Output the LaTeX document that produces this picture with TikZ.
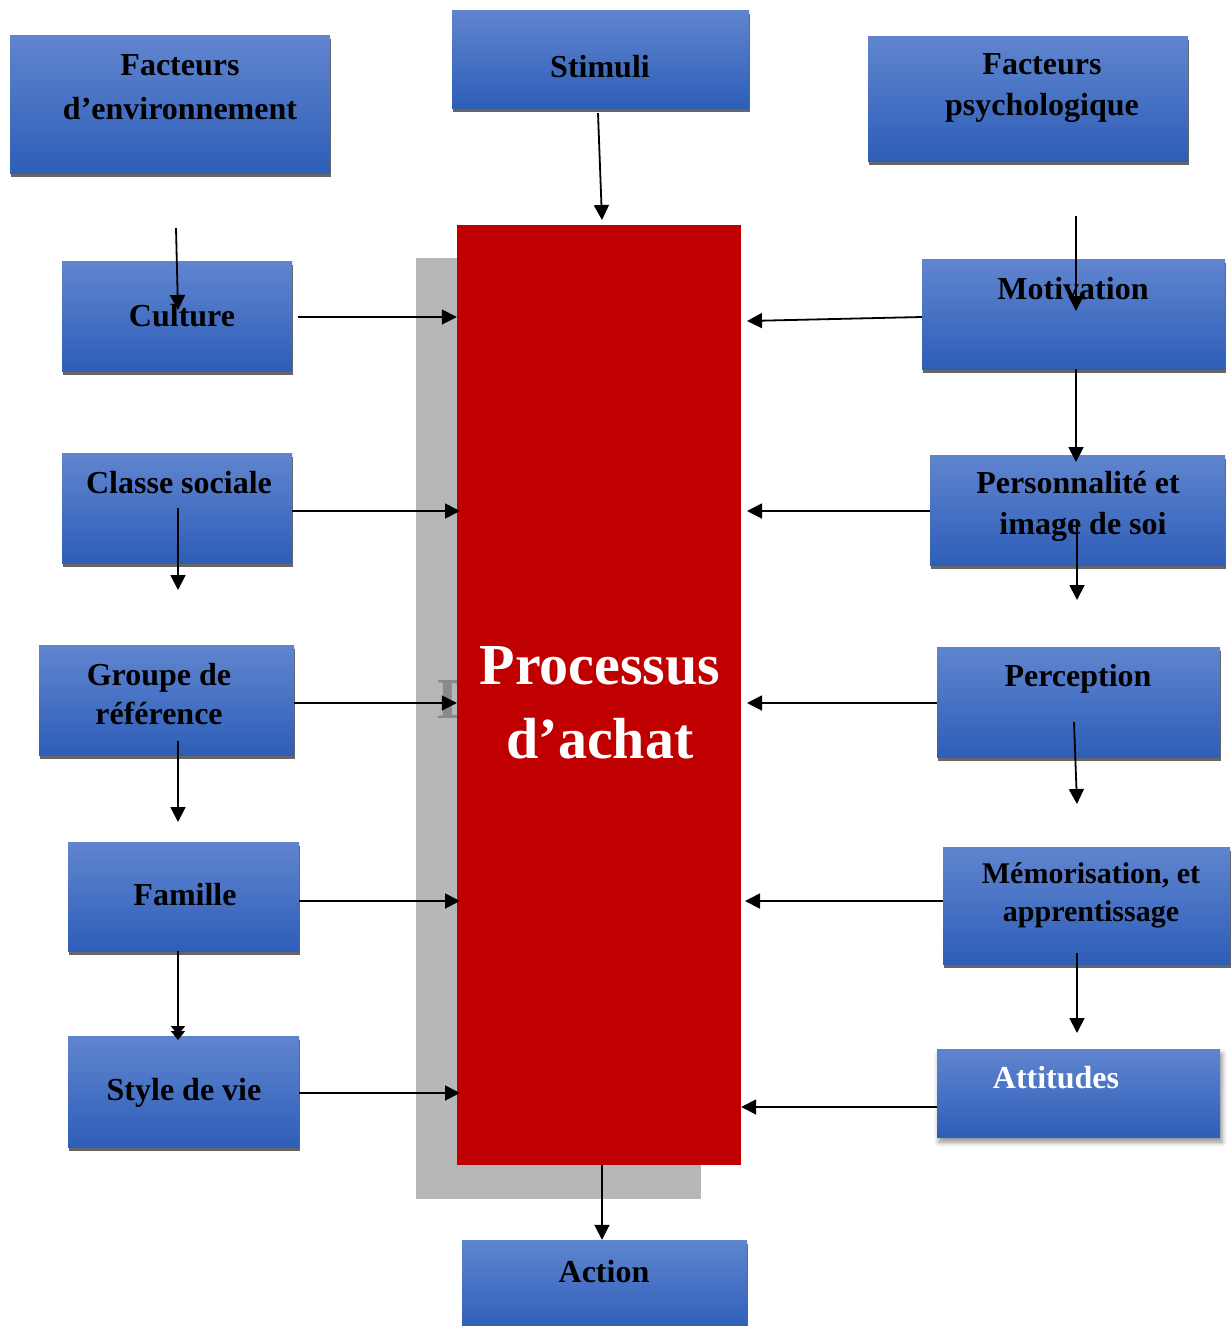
\documentclass[tikz,border=0pt]{standalone}
\usepackage{fontspec}
\setmainfont{Liberation Serif}
\usetikzlibrary{arrows.meta,shadows,shadows.blur,fit}

\definecolor{boxtop}{HTML}{6085CF}
\definecolor{boxbot}{HTML}{2E5EB8}
\definecolor{procred}{HTML}{C00000}
\definecolor{backgray}{HTML}{B7B7B7}
\definecolor{edgegray}{HTML}{666666}
\definecolor{lettergray}{HTML}{8A8A8A}

\begin{document}
\begin{tikzpicture}[x=1pt,y=-1pt,
  box/.style={inner sep=0pt, top color=boxtop, bottom color=boxbot,
    drop shadow={shadow xshift=1pt, shadow yshift=-4pt, fill=edgegray, opacity=1}},
  softbox/.style={inner sep=0pt, top color=boxtop, bottom color=boxbot,
    blur shadow={shadow xshift=2pt, shadow yshift=-5pt, shadow blur radius=5pt, shadow opacity=45}},
  lbl/.style={align=center, inner sep=0pt, font=\fontsize{32}{41}\selectfont\bfseries},
  arr/.style={line width=1.8pt, -{Triangle[length=15pt,width=15pt]}},
  arrtwo/.style={line width=1.8pt, -{Triangle[length=9pt,width=14pt,sep=-4pt]Triangle[length=9pt,width=14pt]}},
]
\useasboundingbox (0,0) rectangle (1231,1326);

% central block and its backing panel
\node[fill=backgray, inner sep=0pt, fit={(416,258) (701,1199)}] (back) {};
\node[font=\fontsize{58}{70}\selectfont\bfseries, text=lettergray, anchor=base west, inner sep=0pt] (dlet) at (437,718) {D};
\node[fill=procred, inner sep=0pt, fit={(457,225) (741,1165)}] (proc) {};
\node[font=\fontsize{58}{74}\selectfont\bfseries, text=white, align=center, inner sep=0pt] (tproc) at (600,703) {Processus\\d’achat};

% boxes
\node[box, fit={(10,35) (330,173)}] (fe) {};
\node[box, fit={(452,10) (749,108)}] (stim) {};
\node[box, fit={(868,36) (1188,161)}] (fp) {};
\node[box, fit={(62,261) (292,371)}] (cult) {};
\node[box, fit={(62,453) (292,563)}] (cls) {};
\node[box, fit={(39,645) (294,755)}] (grp) {};
\node[box, fit={(68,842) (299,951)}] (fam) {};
\node[box, fit={(68,1036) (299,1147)}] (sty) {};
\node[box, fit={(922,259) (1225,369)}] (mot) {};
\node[box, fit={(930,455) (1225,565)}] (pers) {};
\node[box, fit={(937,647) (1220,757)}] (perc) {};
\node[box, fit={(943,847) (1230,964)}] (mem) {};
\node[softbox, fit={(937,1049) (1220,1137)}] (att) {};
\node[box, fit={(462,1240) (747,1330)}] (act) {};

% labels
\node[lbl, font=\fontsize{32}{44}\selectfont\bfseries] (tfe) at (180,87) {Facteurs\\d’environnement};
\node[lbl] (tstim) at (600,67) {Stimuli};
\node[lbl] (tfp) at (1042,88) {Facteurs\\psychologique};
\node[lbl] (tcult) at (182,316) {Culture};
\node[lbl] (tcls) at (179,483) {Classe sociale};
\node[lbl, font=\fontsize{32}{39}\selectfont\bfseries] (tgrp) at (159,694) {Groupe de\\référence};
\node[lbl] (tfam) at (185,895) {Famille};
\node[lbl] (tsty) at (184,1093) {Style de vie};
\node[lbl] (tmot) at (1073,289) {Motivation};
\node[lbl] (tpers) at (1078,506) {Personnalité et\\\hspace*{10pt}image de soi};
\node[lbl] (tperc) at (1078,679) {Perception};
\node[lbl, font=\fontsize{30}{38}\selectfont\bfseries] (tmem) at (1091,895) {Mémorisation, et\\apprentissage};
\node[lbl, text=white] (tatt) at (1056,1078) {Attitudes};
\node[lbl] (tact) at (604,1272) {Action};

% free ends of the vertical links
\coordinate (stimB) at (602,220);
\coordinate (feA) at (176,228);
\coordinate (feB) at (178,310);
\coordinate (cultA) at (298,317);
\coordinate (clsA) at (178,508);
\coordinate (clsB) at (178,590);
\coordinate (grpA) at (178,741);
\coordinate (grpB) at (178,822);
\coordinate (styB) at (178,1040);
\coordinate (motA) at (1076,216);
\coordinate (motB) at (1076,311);
\coordinate (persB) at (1076,462);
\coordinate (persC) at (1077,520);
\coordinate (persD) at (1077,600);
\coordinate (percA) at (1074,722);
\coordinate (percB) at (1077,804);
\coordinate (memA) at (1077,953);
\coordinate (memB) at (1077,1033);

% vertical links
\draw[arr] ([xshift=-2.5pt,yshift=-5pt]stim.south) -- (stimB);
\draw[arr] (feA) -- (feB);
\draw[arr] (clsA) -- (clsB);
\draw[arr] (grpA) -- (grpB);
\draw[arrtwo] (fam.south -| styB) -- (styB);
\draw[arr] (motA) -- (motB);
\draw[arr] (mot.south -| persB) -- (persB);
\draw[arr] (persC) -- (persD);
\draw[arr] (percA) -- (percB);
\draw[arr] (memA) -- (memB);
\draw[arr] (proc.south -| 602,0) -- (act.north -| 602,0);

% links into the central block, left side
\draw[arr] (cultA) -- (proc.west |- cultA);
\draw[arr] (cls.east |- 0,511) -- (460,511);
\draw[arr] (grp.east |- 0,703) -- (proc.west |- 0,703);
\draw[arr] (fam.east |- 0,901) -- (460,901);
\draw[arr] (sty.east |- 0,1093) -- (460,1093);

% links into the central block, right side
\draw[arr] (mot.west |- 0,317) -- (747,321);
\draw[arr] (pers.west |- 0,511) -- (747,511);
\draw[arr] (perc.west |- 0,703) -- (747,703);
\draw[arr] (mem.west |- 0,901) -- (745,901);
\draw[arr] (att.west |- 0,1107) -- (proc.east |- 0,1107);
\end{tikzpicture}
\end{document}
